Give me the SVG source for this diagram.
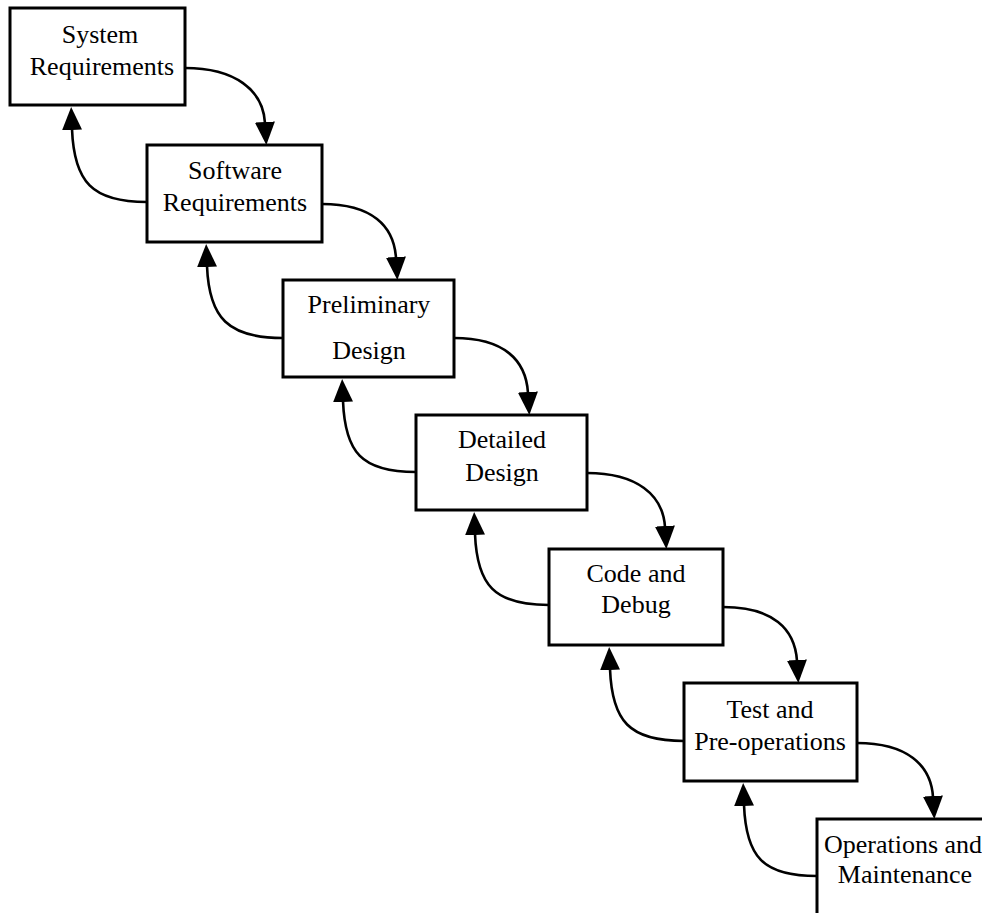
<svg xmlns="http://www.w3.org/2000/svg" width="982" height="913" viewBox="0 0 982 913">
<style>
  .box rect { fill: #ffffff; stroke: #000000; stroke-width: 3; }
  .box text { font-family: "Liberation Serif", "Times New Roman", serif; font-size: 26px; fill: #000000; text-anchor: middle; }
  .conn path { fill: none; stroke: #000000; stroke-width: 2.6; marker-end: url(#head); }
</style>
<defs>
  <marker id="head" markerUnits="userSpaceOnUse" markerWidth="24" markerHeight="20" refX="1" refY="10" orient="auto" viewBox="0 0 24 20">
    <path d="M0,0 L23,10 L0,20 Z" fill="#000000"/>
  </marker>
</defs>
<rect x="0" y="0" width="982" height="913" fill="#ffffff"/>

<g id="connectors" class="conn">
  <path d="M185,68 C235,68 263,90 265,123"/>
  <path d="M322,204 C372,204 394,226 396,258"/>
  <path d="M454,338 C504,338 526,360 528,393"/>
  <path d="M587,473 C637,473 663,495 665,527"/>
  <path d="M723,607 C773,607 795,629 797,661"/>
  <path d="M857,743 C907,743 931,765 933,797"/>
  <path d="M147,202 C92,202 74,182 72,129"/>
  <path d="M283,338 C228,338 209,318 207,266"/>
  <path d="M416,472 C361,472 345,452 343,401"/>
  <path d="M549,605 C494,605 477,585 475,534"/>
  <path d="M684,741 C629,741 612,721 610,669"/>
  <path d="M817,876 C762,876 746,856 744,805"/>
</g>

<g id="system-requirements" class="box">
  <rect x="10" y="8" width="175" height="97"/>
  <text x="100" y="43">System</text>
  <text x="102" y="75">Requirements</text>
</g>
<g id="software-requirements" class="box">
  <rect x="147" y="145" width="175" height="97"/>
  <text x="235" y="179">Software</text>
  <text x="235" y="211">Requirements</text>
</g>
<g id="preliminary-design" class="box">
  <rect x="283" y="280" width="171" height="97"/>
  <text x="369" y="313">Preliminary</text>
  <text x="369" y="359">Design</text>
</g>
<g id="detailed-design" class="box">
  <rect x="416" y="415" width="171" height="95"/>
  <text x="502" y="448">Detailed</text>
  <text x="502" y="481">Design</text>
</g>
<g id="code-and-debug" class="box">
  <rect x="549" y="549" width="174" height="96"/>
  <text x="636" y="582">Code and</text>
  <text x="636" y="613">Debug</text>
</g>
<g id="test-and-pre-operations" class="box">
  <rect x="684" y="683" width="173" height="98"/>
  <text x="770" y="718">Test and</text>
  <text x="770" y="750">Pre-operations</text>
</g>
<g id="operations-and-maintenance" class="box">
  <rect x="817" y="819" width="200" height="120"/>
  <text x="903" y="853">Operations and</text>
  <text x="905" y="883">Maintenance</text>
</g>
</svg>
